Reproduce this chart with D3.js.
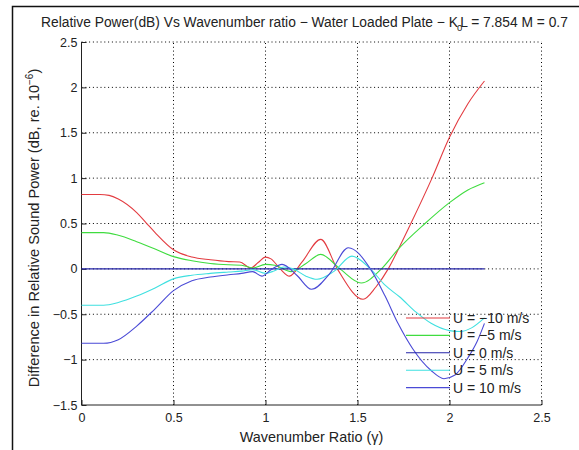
<!DOCTYPE html>
<meta charset="utf-8">
<head>
<script src="https://cdn.jsdelivr.net/npm/d3@7"></script>
<style>
body { margin: 0; background: #fff; }
text { font-family: "Liberation Sans", Arial, sans-serif; fill: #222; }
.grid line { stroke: #000; stroke-dasharray: 1,2.8; stroke-width: 1; }
.axis path, .axis line { stroke: #222; }
</style>
</head>
<body>
<script>

// data
var xRed = [0, 0.1, 0.15, 0.2, 0.3, 0.35, 0.4, 0.5, 0.6, 0.7, 0.8, 0.86, 0.92, 0.96, 1.0, 1.03, 1.08, 1.13, 1.2, 1.3, 1.39, 1.53, 1.6, 1.667, 1.73, 1.79, 1.905, 2.0, 2.1, 2.19];
var yRed = [0.82, 0.82, 0.81, 0.77, 0.62, 0.51, 0.40, 0.21, 0.13, 0.10, 0.08, 0.075, 0.01, 0.07, 0.13, 0.11, 0.0, -0.08, 0.08, 0.325, 0.0, -0.335, -0.2, 0.0, 0.25, 0.5, 1.0, 1.45, 1.82, 2.07];

var xGreen = [0, 0.12, 0.2, 0.3, 0.4, 0.5, 0.6, 0.7, 0.8, 0.87, 0.93, 1.0, 1.05, 1.14, 1.22, 1.3, 1.405, 1.52, 1.63, 1.72, 1.867, 2.0, 2.1, 2.19];
var yGreen = [0.40, 0.40, 0.37, 0.30, 0.22, 0.135, 0.09, 0.06, 0.045, 0.04, 0.01, 0.05, 0.04, -0.03, 0.06, 0.16, 0.0, -0.155, 0.0, 0.215, 0.5, 0.73, 0.87, 0.95];

var xZero = [0, 2.19];
var yZero = [0, 0];

var xCyan = [0, 0.12, 0.2, 0.3, 0.4, 0.5, 0.6, 0.7, 0.8, 0.87, 0.93, 1.0, 1.05, 1.1, 1.15, 1.22, 1.28, 1.37, 1.47, 1.57, 1.65, 1.73, 1.82, 1.9, 2.0, 2.06, 2.12, 2.19];
var yCyan = [-0.40, -0.40, -0.37, -0.30, -0.21, -0.11, -0.07, -0.05, -0.035, -0.025, -0.01, -0.05, -0.02, 0.02, 0.0, -0.08, -0.115, -0.03, 0.14, 0.0, -0.18, -0.31, -0.48, -0.6, -0.68, -0.69, -0.65, -0.54];

var xBlue = [0, 0.12, 0.2, 0.3, 0.4, 0.5, 0.6, 0.7, 0.8, 0.87, 0.93, 0.98, 1.03, 1.09, 1.17, 1.25, 1.35, 1.45, 1.57, 1.65, 1.72, 1.8, 1.9, 1.97, 2.03, 2.1, 2.15, 2.19];
var yBlue = [-0.82, -0.82, -0.78, -0.63, -0.44, -0.24, -0.13, -0.09, -0.065, -0.05, -0.03, -0.08, -0.01, 0.05, -0.07, -0.225, -0.05, 0.233, 0.0, -0.3, -0.6, -0.88, -1.12, -1.21, -1.17, -0.98, -0.8, -0.6];

var seriesNames = ["U = \u221210 m/s", "U = \u22125 m/s", "U = 0 m/s", "U = 5 m/s", "U = 10 m/s"];
var seriesColors = ["#e33b40", "#3fdc3f", "#2424a8", "#3fe0e0", "#4a4ad6"];

var xTicks = [0, 0.5, 1, 1.5, 2, 2.5];
var yTicks = [-1.5, -1, -0.5, 0, 0.5, 1, 1.5, 2, 2.5];

var width = 579, height = 450;
var margin = {top: 42, right: 37.5, bottom: 45, left: 81.5};

var svg = d3.select("body").append("svg")
    .attr("width", width)
    .attr("height", height);

// figure frame (left and top edges)
svg.append("path")
    .attr("d", "M12.5,450 V6.5 H579")
    .attr("fill", "none")
    .attr("stroke", "#111")
    .attr("stroke-width", 1.5);

var x = d3.scaleLinear().domain([0, 2.5]).range([margin.left, width - margin.right]);
var y = d3.scaleLinear().domain([-1.5, 2.5]).range([height - margin.bottom, margin.top]);

// grid
var grid = svg.append("g").attr("class", "grid");
grid.selectAll("line.v").data(xTicks.slice(1)).enter().append("line")
    .attr("x1", function(d) { return x(d); })
    .attr("x2", function(d) { return x(d); })
    .attr("y1", y(-1.5))
    .attr("y2", y(2.5));
grid.selectAll("line.h").data(yTicks.slice(1)).enter().append("line")
    .attr("x1", x(0))
    .attr("x2", x(2.5))
    .attr("y1", function(d) { return y(d); })
    .attr("y2", function(d) { return y(d); });

// axes
var fmt = function(d) { return String(d).replace("-", "\u2212"); };

svg.append("g").attr("class", "axis")
    .attr("transform", "translate(0," + y(-1.5) + ")")
    .call(d3.axisBottom(x).tickValues(xTicks).tickSize(-5).tickPadding(8).tickFormat(fmt))
    .call(function(g) { g.select(".domain").attr("d", "M" + x(0) + ",0H" + x(2.5)); })
    .selectAll("text").style("font-size", "12.5px");

svg.append("g").attr("class", "axis")
    .attr("transform", "translate(" + x(0) + ",0)")
    .call(d3.axisLeft(y).tickValues(yTicks).tickSize(-5).tickPadding(4).tickFormat(fmt))
    .call(function(g) { g.select(".domain").attr("d", "M0," + y(2.5) + "V" + y(-1.5)); })
    .selectAll("text").style("font-size", "12.5px");

// curves
var xs = [xRed, xGreen, xZero, xCyan, xBlue];
var ys = [yRed, yGreen, yZero, yCyan, yBlue];

var line = d3.line()
    .x(function(d) { return x(d[0]); })
    .y(function(d) { return y(d[1]); })
    .curve(d3.curveMonotoneX);

xs.forEach(function(xv, i) {
  svg.append("path")
      .datum(d3.zip(xv, ys[i]))
      .attr("fill", "none")
      .attr("stroke", seriesColors[i])
      .attr("stroke-width", 1.1)
      .attr("d", line);
});

// legend (no box)
var legend = svg.append("g").attr("transform", "translate(406,318)");
seriesNames.forEach(function(name, i) {
  var row = legend.append("g").attr("transform", "translate(0," + (i * 17.4) + ")");
  row.append("line")
      .attr("x1", 0).attr("x2", 44)
      .attr("stroke", seriesColors[i])
      .attr("stroke-width", 1.1);
  row.append("text")
      .attr("x", 47)
      .attr("dy", "0.36em")
      .style("font-size", "14px")
      .text(name);
});

// titles
var title = svg.append("text")
    .attr("x", 41)
    .attr("y", 27)
    .style("font-size", "13.8px");
title.append("tspan").text("Relative Power(dB) Vs Wavenumber ratio \u2212 Water Loaded Plate \u2212 K");
title.append("tspan").attr("dx", -1).attr("dy", 4).style("font-size", "9.5px").text("0");
title.append("tspan").attr("dx", -2).attr("dy", -4).text("L = 7.854 M = 0.7");

svg.append("text")
    .attr("x", x(1.25))
    .attr("y", 442)
    .attr("text-anchor", "middle")
    .style("font-size", "14.4px")
    .text("Wavenumber Ratio (\u03b3)");

var ylab = svg.append("text")
    .attr("transform", "translate(39,228) rotate(-90)")
    .attr("text-anchor", "middle")
    .style("font-size", "14.6px");
ylab.append("tspan").text("Difference in Relative Sound Power (dB, re. 10");
ylab.append("tspan").attr("dy", -6).style("font-size", "10px").text("\u22126");
ylab.append("tspan").attr("dy", 6).text(")");

</script>
</body>
